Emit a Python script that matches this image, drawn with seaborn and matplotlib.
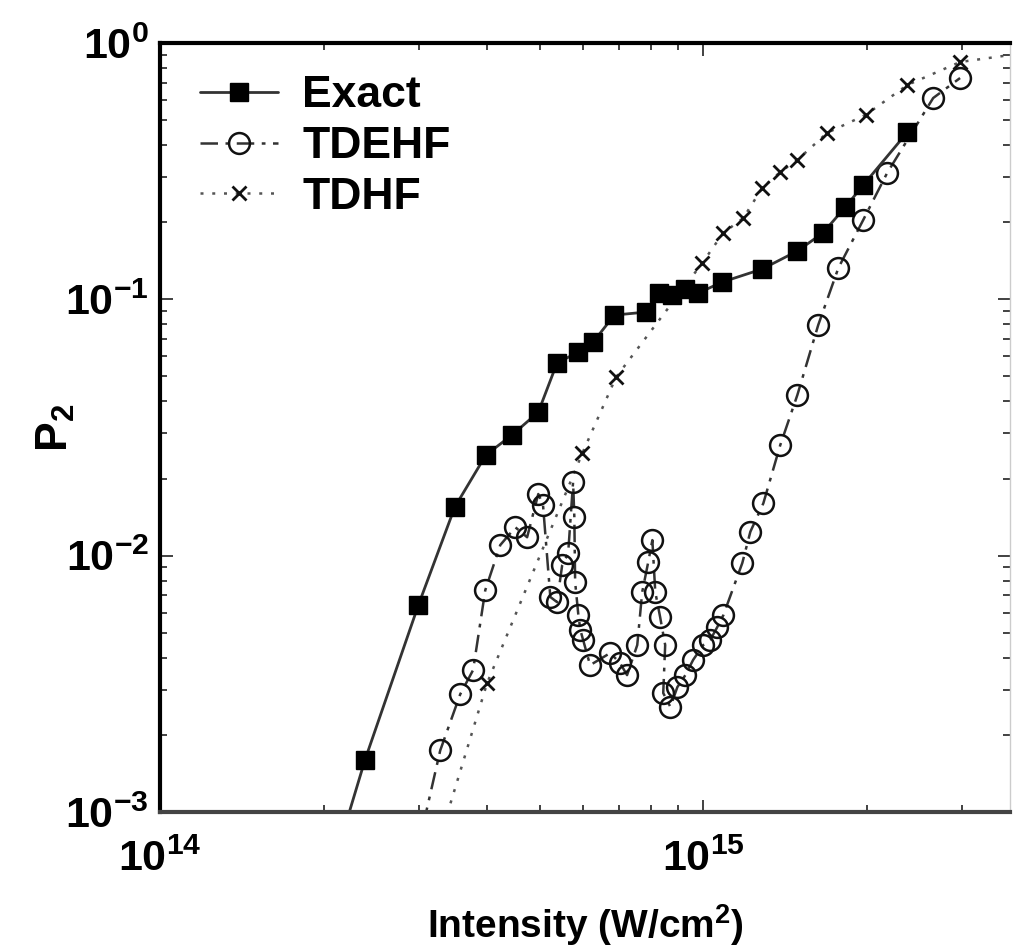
import numpy as np
import pandas as pd
import matplotlib
matplotlib.use("Agg")
import matplotlib.pyplot as plt
from matplotlib.ticker import FuncFormatter, LogLocator, NullFormatter
import seaborn as sns

# ---------------- data ----------------
exact_I = [2.06e14, 2.385e14, 2.99e14, 3.49e14, 3.98e14, 4.45e14, 4.97e14, 5.38e14,
           5.89e14, 6.27e14, 6.86e14, 7.85e14, 8.30e14, 8.77e14, 9.27e14, 9.79e14,
           1.084e15, 1.284e15, 1.49e15, 1.66e15, 1.826e15, 1.97e15, 2.376e15]
exact_P = [5.7e-4, 1.60e-3, 6.42e-3, 1.55e-2, 2.47e-2, 2.96e-2, 3.63e-2, 5.64e-2,
           6.23e-2, 6.81e-2, 8.68e-2, 8.92e-2, 0.1058, 0.1039, 0.1097, 0.1058,
           0.1168, 0.1313, 0.1543, 0.1814, 0.229, 0.279, 0.449]

tdehf_I = [2.95e14, 3.28e14, 3.57e14, 3.77e14, 3.97e14, 4.23e14, 4.51e14, 4.74e14,
           4.97e14, 5.07e14, 5.23e14, 5.38e14, 5.50e14, 5.64e14, 5.76e14, 5.79e14,
           5.81e14, 5.89e14, 5.94e14, 6.01e14, 6.19e14, 6.74e14, 7.03e14, 7.24e14,
           7.56e14, 7.72e14, 7.92e14, 8.06e14, 8.16e14, 8.33e14, 8.51e14, 8.44e14,
           8.70e14, 8.96e14, 9.27e14, 9.58e14, 1.00e15, 1.03e15, 1.061e15, 1.089e15,
           1.18e15, 1.221e15, 1.29e15, 1.386e15, 1.49e15, 1.628e15, 1.773e15, 1.97e15,
           2.18e15, 2.65e15, 2.97e15]
tdehf_P = [6.5e-4, 1.74e-3, 2.88e-3, 3.58e-3, 7.34e-3, 1.10e-2, 1.29e-2, 1.18e-2,
           1.74e-2, 1.58e-2, 6.90e-3, 6.59e-3, 9.19e-3, 1.02e-2, 1.94e-2, 1.42e-2,
           7.89e-3, 5.86e-3, 5.13e-3, 4.69e-3, 3.74e-3, 4.17e-3, 3.81e-3, 3.42e-3,
           4.48e-3, 7.21e-3, 9.44e-3, 1.15e-2, 7.21e-3, 5.76e-3, 4.48e-3, 2.91e-3,
           2.57e-3, 3.07e-3, 3.42e-3, 3.92e-3, 4.48e-3, 4.69e-3, 5.26e-3, 5.86e-3,
           9.36e-3, 1.24e-2, 1.60e-2, 2.70e-2, 4.23e-2, 7.94e-2, 0.1325, 0.204,
           0.311, 0.610, 0.730]

tdhf_I = [3.14e14, 4.00e14, 5.99e14, 6.91e14, 9.96e14, 1.088e15, 1.185e15, 1.284e15,
          1.386e15, 1.49e15, 1.69e15, 1.99e15, 2.376e15, 2.97e15, 4.54e15]
tdhf_P = [5.9e-4, 3.18e-3, 2.51e-2, 4.97e-2, 0.1386, 0.1815, 0.2075, 0.272,
          0.314, 0.3496, 0.446, 0.524, 0.686, 0.843, 0.956]

series_names = ["Exact", "TDEHF", "TDHF"]
x_limits = (1e14, 3.67e15)
y_limits = (1e-3, 1.0)

# ---------------- style ----------------
sns.set_style("ticks")
plt.rcParams["font.family"] = ["Liberation Sans", "DejaVu Sans"]
plt.rcParams["font.weight"] = "bold"
plt.rcParams["text.color"] = "black"
plt.rcParams["axes.labelcolor"] = "black"
plt.rcParams["xtick.color"] = "black"
plt.rcParams["ytick.color"] = "black"
plt.rcParams["mathtext.fontset"] = "custom"
plt.rcParams["mathtext.rm"] = "Liberation Sans:bold"
plt.rcParams["mathtext.it"] = "Liberation Sans:bold"
plt.rcParams["mathtext.bf"] = "Liberation Sans:bold"
plt.rcParams["mathtext.sf"] = "Liberation Sans:bold"

fig = plt.figure(figsize=(10.13, 9.52), dpi=100)
ax = fig.add_axes([160 / 1013, 1 - 812 / 952, 850 / 1013, 769 / 952])

df_exact = pd.DataFrame({"I": exact_I, "P": exact_P})
df_tdehf = pd.DataFrame({"I": tdehf_I, "P": tdehf_P})
df_tdhf = pd.DataFrame({"I": tdhf_I, "P": tdhf_P})

sns.lineplot(data=df_tdhf, x="I", y="P", ax=ax, estimator=None, sort=False,
             color="#555555", linestyle=(0, (1.2, 3.5)), linewidth=1.8,
             marker="x", markersize=10, markeredgecolor="#111111",
             markeredgewidth=2.0, label=series_names[2])
sns.lineplot(data=df_tdehf, x="I", y="P", ax=ax, estimator=None, sort=False,
             color="#333333", linestyle=(0, (7, 3, 1.5, 3)), linewidth=1.8,
             marker="o", markersize=15, markerfacecolor="none",
             markeredgecolor="#111111", markeredgewidth=1.8,
             label=series_names[1])
sns.lineplot(data=df_exact, x="I", y="P", ax=ax, estimator=None, sort=False,
             color="#333333", linestyle="-", linewidth=2.0,
             marker="s", markersize=13, markerfacecolor="black",
             markeredgecolor="black", markeredgewidth=1.0,
             label=series_names[0])

ax.set_xscale("log")
ax.set_yscale("log")
ax.set_xlim(*x_limits)
ax.set_ylim(*y_limits)

fmt = FuncFormatter(lambda v, pos: r"$\mathbf{10^{%d}}$" % int(round(np.log10(v))))
ax.xaxis.set_major_locator(LogLocator(base=10, numticks=10))
ax.yaxis.set_major_locator(LogLocator(base=10, numticks=10))
ax.xaxis.set_major_formatter(fmt)
ax.yaxis.set_major_formatter(fmt)
ax.xaxis.set_minor_formatter(NullFormatter())
ax.yaxis.set_minor_formatter(NullFormatter())

ax.tick_params(which="both", direction="in", top=True, right=True,
               width=1.3, color="#333333", labelcolor="black")
ax.tick_params(which="major", length=9, labelsize=31)
ax.tick_params(axis="x", which="major", pad=20)
ax.tick_params(axis="y", which="major", pad=8)
ax.tick_params(which="minor", length=5)

for side in ["left", "top"]:
    ax.spines[side].set_linewidth(3.0)
    ax.spines[side].set_color("black")
ax.spines["bottom"].set_linewidth(3.0)
ax.spines["bottom"].set_color("#444444")
ax.spines["right"].set_linewidth(1.0)
ax.spines["right"].set_color("#cccccc")

ax.set_xlabel(r"Intensity (W/cm$^{2}$)", fontsize=28, fontweight="bold",
              labelpad=16, color="black")
ax.set_ylabel(r"$\mathbf{P_{2}}$", fontsize=32, labelpad=0, color="black")
ax.yaxis.set_label_coords(-0.098, 0.5)

handles, labels = ax.get_legend_handles_labels()
order = [labels.index(n) for n in series_names]
leg = ax.legend([handles[i] for i in order], [labels[i] for i in order],
                loc="upper left", bbox_to_anchor=(0.0, 1.01), frameon=False,
                prop={"weight": "bold", "size": 32}, handlelength=1.75,
                handletextpad=0.55, labelspacing=0.22, borderaxespad=0.5)
for t in leg.get_texts():
    t.set_color("black")

fig.savefig("out.png", dpi=100, facecolor="white")
